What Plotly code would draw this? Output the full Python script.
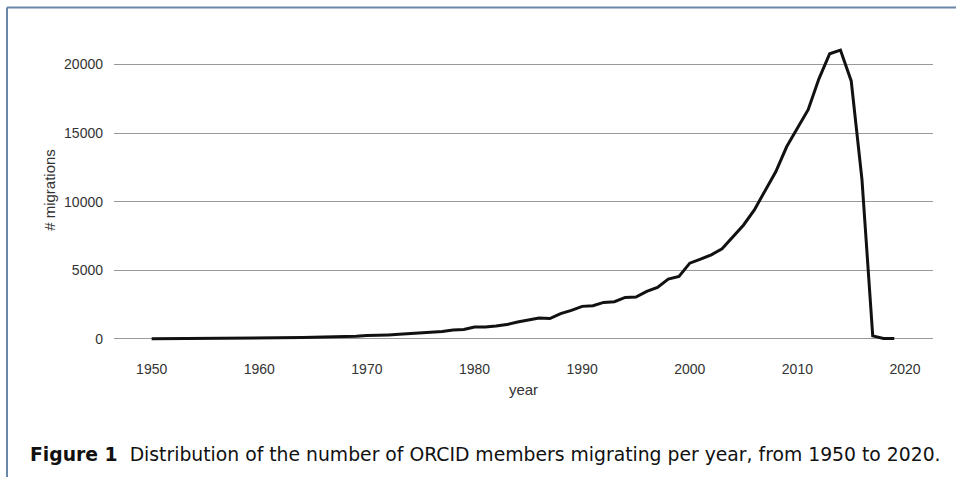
import plotly.graph_objects as go

# migrations per year
years = list(range(1950, 2020))
migrations = [10, 12, 15, 18, 22, 25, 30, 35, 40, 45,
              55, 60, 75, 80, 95, 110, 120, 140, 170, 200,
              240, 250, 290, 330, 380, 430, 510, 540, 640, 680,
              860, 870, 940, 1040, 1230, 1350, 1520, 1480, 1840, 2080,
              2370, 2420, 2660, 2710, 3020, 3050, 3460, 3750, 4360, 4550,
              5520, 5810, 6130, 6560, 7400, 8300, 9400, 10750, 12200, 14000,
              15300, 16700, 18950, 20780, 21050, 18800, 11600, 220, 30, 20]

x_ticks = [1950, 1960, 1970, 1980, 1990, 2000, 2010, 2020]
y_ticks = [0, 5000, 10000, 15000, 20000]

caption_bold = "Figure 1"
caption_text = "Distribution of the number of ORCID members migrating per year, from 1950 to 2020."

W, H = 956, 477
L, R, T, B = 114, 23, 36.6, 133.6
pw, ph = W - L - R, H - T - B


def px(x):
    return (x - L) / pw


def py(y):
    return (H - B - y) / ph


axis_font = dict(family="Liberation Sans, Arial", size=14, color="#333333")
title_font = dict(family="Liberation Sans, Arial", size=15, color="#333333")

fig = go.Figure()
fig.add_trace(go.Scatter(x=years, y=migrations, mode="lines",
                         line=dict(color="#111111", width=3),
                         showlegend=False))

fig.update_xaxes(range=[1946.5, 2022.6], tickvals=x_ticks,
                 showgrid=False, zeroline=False, showline=False,
                 ticks="", ticklabelstandoff=16, tickfont=axis_font,
                 title=dict(text="year", standoff=8, font=title_font))
fig.update_yaxes(range=[-300, 22000], tickvals=y_ticks, tickformat="d",
                 showgrid=True, gridcolor="#999999", gridwidth=1.3,
                 zeroline=False, showline=False, ticks="", ticklabelstandoff=10,
                 tickfont=axis_font,
                 title=dict(text="# migrations", standoff=4, font=title_font))

# frame around the figure (top and left edges visible)
frame = "#6a86a8"
fig.add_shape(type="line", xref="paper", yref="paper",
              x0=px(7), y0=py(7), x1=px(W + 5), y1=py(7),
              line=dict(color=frame, width=2))
fig.add_shape(type="line", xref="paper", yref="paper",
              x0=px(7), y0=py(7), x1=px(7), y1=py(H + 5),
              line=dict(color=frame, width=2))

fig.add_annotation(xref="paper", yref="paper", x=px(28), y=py(455),
                   xanchor="left", yanchor="middle", showarrow=False,
                   text="<b>" + caption_bold + "</b>  " + caption_text,
                   font=dict(family="DejaVu Sans", size=18.8, color="#111111"))

fig.update_layout(width=W, height=H,
                  margin=dict(l=L, r=R, t=T, b=B),
                  paper_bgcolor="white", plot_bgcolor="white")

fig.write_html("out.html", config={"displayModeBar": False},
               post_script="document.body.style.margin='0px';")
